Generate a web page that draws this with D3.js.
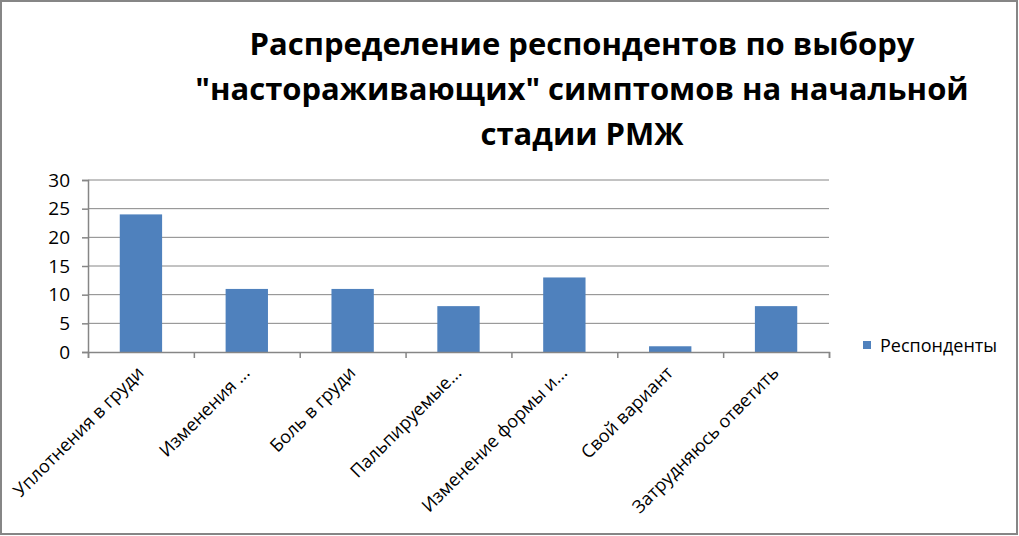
<!DOCTYPE html>
<html>
<head>
<meta charset="utf-8">
<script src="https://cdn.jsdelivr.net/npm/d3@7"></script>
<style>
    body { margin: 0; background: #fff; }
    svg { display: block; font-family: "Open Sans", "Noto Sans", sans-serif; }
</style>
</head>
<body>
<svg id="chart"></svg>
<script>
// --- Data ---
const categories = [
    'Уплотнения в груди',
    'Изменения ...',
    'Боль в груди',
    'Пальпируемые...',
    'Изменение формы и...',
    'Свой вариант',
    'Затрудняюсь ответить',
];
const respondents = [24, 11, 11, 8, 13, 1, 8];
const yTicks = [0, 5, 10, 15, 20, 25, 30];
const titleLines = [
    'Распределение респондентов по выбору',
    '"настораживающих" симптомов на начальной',
    'стадии РМЖ',
];
const seriesName = 'Респонденты';

const width = 1019, height = 536;
const plot = { left: 88, right: 829, top: 180, bottom: 352 };
const barColor = '#4f81bd';
const gridColor = '#868686';

const svg = d3.select('#chart').attr('width', width).attr('height', height);

// Outer frame
svg.append('rect')
    .attr('x', 1).attr('y', 1)
    .attr('width', width - 3).attr('height', height - 3)
    .attr('fill', '#fff')
    .attr('stroke', gridColor).attr('stroke-width', 2);

// Title
svg.append('g')
    .selectAll('text')
    .data(titleLines)
    .join('text')
    .attr('x', 582)
    .attr('y', (d, i) => 55 + i * 45)
    .attr('text-anchor', 'middle')
    .attr('font-size', 31)
    .attr('font-weight', 'bold')
    .attr('fill', '#000')
    .text(d => d);

// Scales
const x = d3.scaleBand()
    .domain(categories)
    .range([plot.left, plot.right])
    .paddingInner(0.6)
    .paddingOuter(0.3);

const y = d3.scaleLinear()
    .domain([0, 30])
    .range([plot.bottom, plot.top]);

// Gridlines
svg.append('g')
    .selectAll('line')
    .data(yTicks.slice(1))
    .join('line')
    .attr('x1', plot.left).attr('x2', plot.right)
    .attr('y1', d => y(d)).attr('y2', d => y(d))
    .attr('stroke', gridColor).attr('stroke-width', 1);

// Bars
svg.append('g')
    .selectAll('rect')
    .data(respondents)
    .join('rect')
    .attr('x', (d, i) => x(categories[i]))
    .attr('y', d => y(d))
    .attr('width', x.bandwidth())
    .attr('height', d => y(0) - y(d))
    .attr('fill', barColor);

// Y axis
const yAxis = svg.append('g')
    .attr('transform', `translate(${plot.left},0)`)
    .call(d3.axisLeft(y).tickValues(yTicks).tickSize(6).tickPadding(12));
yAxis.selectAll('text').attr('font-size', 19).attr('fill', '#000')
    .attr('font-family', '"Open Sans", sans-serif');

// X axis: ticks at category boundaries
const xEdges = d3.scaleLinear().domain([0, categories.length]).range([plot.left, plot.right]);
svg.append('g')
    .attr('transform', `translate(0,${plot.bottom})`)
    .call(d3.axisBottom(xEdges).ticks(categories.length).tickSize(6).tickFormat(''));

svg.selectAll('.domain, .tick line').attr('stroke', gridColor).attr('stroke-width', 1.5);

// Category labels, rotated
svg.append('g')
    .selectAll('text')
    .data(categories)
    .join('text')
    .attr('transform', d => `translate(${x(d) + x.bandwidth() / 2 + 4},${plot.bottom + 22}) rotate(-45)`)
    .attr('text-anchor', 'end')
    .attr('font-size', 18)
    .attr('fill', '#000')
    .text(d => d);

// Legend
const legend = svg.append('g').attr('transform', 'translate(863,341)');
legend.append('rect').attr('width', 8).attr('height', 8).attr('fill', barColor);
legend.append('text')
    .attr('x', 17).attr('y', 11)
    .attr('font-size', 18)
    .attr('fill', '#000')
    .text(seriesName);
</script>
</body>
</html>
